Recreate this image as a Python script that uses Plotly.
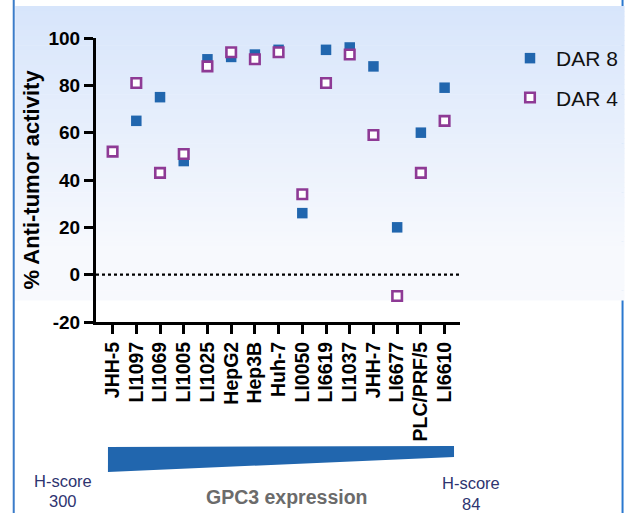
import plotly.graph_objects as go

# Cell lines ordered by GPC3 expression (high -> low)
cell_lines = ["JHH-5", "LI1097", "LI1069", "LI1005", "LI1025", "HepG2", "Hep3B",
              "Huh-7", "LI0050", "LI6619", "LI1037", "JHH-7", "LI6677", "PLC/PRF/5", "LI6610"]
dar8 = [52, 65, 75, 48, 91, 92, 93, 95, 26, 95, 96, 88, 20, 60, 79]
dar4 = [52, 81, 43, 51, 88, 94, 91, 94, 34, 81, 93, 59, -9, 43, 65]
y_ticks = [-20, 0, 20, 40, 60, 80, 100]
y_tick_text = ["-20", "0", "20", "40", "60", "80", "100"]

W, H = 635, 513
L, R, T, B = 96, 461, 38, 322  # plot area in pixels


def px(x):
    return (x - L) / (R - L)


def py(y):
    return (B - y) / (B - T)


FONT = "Liberation Sans, Arial, sans-serif"
BLUE = "#2166ae"
PURPLE = "#8e3a95"

fig = go.Figure()
fig.add_trace(go.Scatter(
    x=cell_lines, y=dar8, mode="markers", name="DAR 8", legendgroup="a",
    marker=dict(symbol="square", size=10.5, color=BLUE, line=dict(width=0)),
))
fig.add_trace(go.Scatter(
    x=cell_lines, y=dar4, mode="markers", name="DAR 4", legendgroup="b",
    marker=dict(symbol="square", size=9.5, color="white", line=dict(width=2.6, color=PURPLE)),
))

shapes = []
# frame lines
shapes.append(dict(type="line", xref="paper", yref="paper", x0=px(13.5), x1=px(13.5),
                   y0=py(0), y1=py(H), line=dict(color="#3b7cc9", width=2), layer="below"))
shapes.append(dict(type="line", xref="paper", yref="paper", x0=px(624), x1=px(624),
                   y0=py(0), y1=py(H), line=dict(color="#2a78cf", width=2), layer="below"))
# soft blue background panel, built from thin bands
top_c = (215, 229, 251)
bot_c = (247, 249, 253)
y_start, y_end, y_fade = 6, 300, 250
n = 60
step = (y_end - y_start) / n
for i in range(n):
    y0 = y_start + i * step
    t = min(1.0, (y0 + step / 2 - y_start) / (y_fade - y_start))
    c = tuple(round(a + (b - a) * t) for a, b in zip(top_c, bot_c))
    shapes.append(dict(type="rect", xref="paper", yref="paper",
                       x0=px(15), x1=px(626), y0=py(y0), y1=py(y0 + step + 0.6),
                       fillcolor="rgb(%d,%d,%d)" % c, line=dict(width=0), layer="below"))
# dotted zero line
shapes.append(dict(type="line", xref="paper", yref="y", x0=0, x1=1, y0=0, y1=0,
                   line=dict(color="black", width=2.2, dash="dot")))
# GPC3 expression wedge
wedge = "M {a},{b} L {c},{d} L {c},{e} L {a},{f} Z".format(
    a=px(108), b=py(447), c=px(455), d=py(446), e=py(457), f=py(472))
shapes.append(dict(type="path", xref="paper", yref="paper", path=wedge,
                   fillcolor=BLUE, line=dict(width=0)))

annotations = [
    dict(text="H-score", x=px(63), y=py(481)),
    dict(text="300", x=px(63), y=py(501)),
    dict(text="H-score", x=px(472), y=py(483)),
    dict(text="84", x=px(472), y=py(504)),
]
for a in annotations:
    a.update(xref="paper", yref="paper", showarrow=False, xanchor="center", yanchor="middle",
             font=dict(family=FONT, size=16.5, color="#2e3470"))
annotations.append(dict(text="<b>GPC3 expression</b>", x=px(287), y=py(497), xref="paper",
                        yref="paper", showarrow=False, xanchor="center", yanchor="middle",
                        font=dict(family=FONT, size=19.5, color="#6b6b6b")))

fig.update_layout(
    width=W, height=H,
    margin=dict(l=L, r=W - R, t=T, b=H - B, pad=0),
    paper_bgcolor="white", plot_bgcolor="rgba(0,0,0,0)",
    shapes=shapes, annotations=annotations,
    showlegend=True,
    legend=dict(x=px(504), y=py(38), xanchor="left", yanchor="top",
                font=dict(family=FONT, size=21, color="#111111"),
                bgcolor="rgba(0,0,0,0)", tracegroupgap=9, itemsizing="trace",
                itemwidth=42),
    font=dict(family=FONT, color="black"),
)
fig.update_xaxes(
    range=[-0.7, 14.65], tickmode="array", tickvals=cell_lines, ticktext=cell_lines,
    showline=True, linecolor="black", linewidth=3,
    ticks="outside", ticklen=9, tickwidth=2.5, tickcolor="black",
    tickangle=-90, showgrid=False, zeroline=False,
    tickfont=dict(family=FONT, size=19.5, color="black", weight="bold"),
)
fig.update_yaxes(
    range=[-20, 100], tickvals=y_ticks, ticktext=y_tick_text,
    showline=True, linecolor="black", linewidth=3,
    ticks="outside", ticklen=9, tickwidth=2.5, tickcolor="black",
    showgrid=False, zeroline=False,
    tickfont=dict(family=FONT, size=19, color="black", weight="bold"),
    title=dict(text="% Anti-tumor activity", standoff=3,
               font=dict(family=FONT, size=22, color="black", weight="bold")),
)

fig.write_html("out.html")
